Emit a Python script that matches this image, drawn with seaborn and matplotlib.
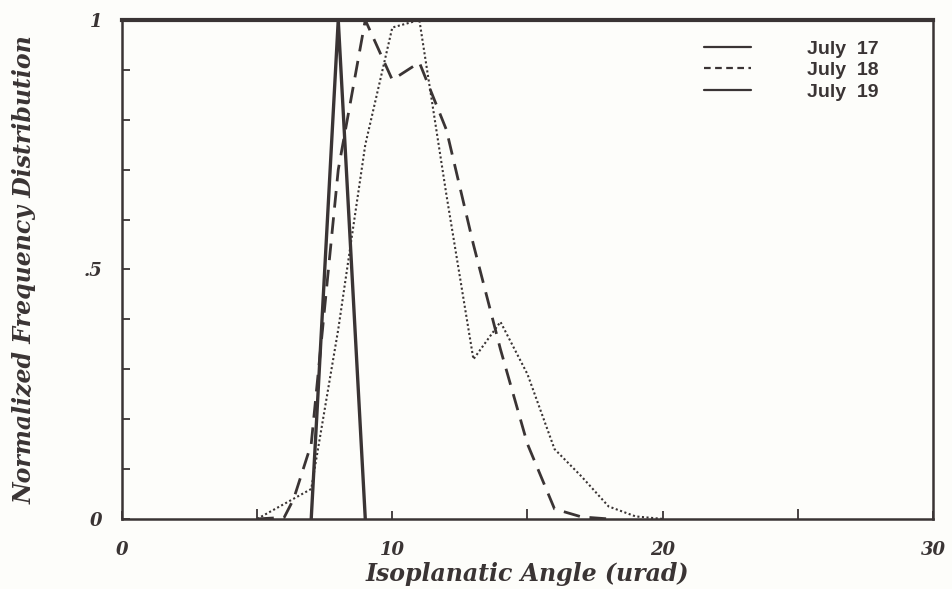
import numpy as np
import pandas as pd
import seaborn as sns
import matplotlib.pyplot as plt
from matplotlib.lines import Line2D

# valores (angulo isoplanatico, urad)
x_jul17 = [7, 8, 9]
y_jul17 = [0.0, 1.0, 0.0]

x_jul18 = [5, 6, 6.35, 7, 8, 9, 10, 11, 12, 13, 14, 15, 16, 17, 18]
y_jul18 = [0.0, 0.003, 0.04, 0.15, 0.70, 1.0, 0.88, 0.915, 0.78, 0.55, 0.34, 0.15, 0.02, 0.004, 0.0]

x_jul19 = [5, 6, 7, 8, 9, 10, 11, 12, 13, 14, 15, 16, 17, 18, 19, 20]
y_jul19 = [0.0, 0.03, 0.06, 0.38, 0.75, 0.985, 1.0, 0.65, 0.32, 0.395, 0.29, 0.14, 0.085, 0.025, 0.005, 0.0]

legend_labels = ["July  17", "July  18", "July  19"]

sns.set_style("white")
plt.rcParams['font.family'] = ['DejaVu Serif', 'DejaVu Sans']

cor = '#3a3434'
fundo = '#fdfdfa'

fig = plt.figure(figsize=(9.53, 5.89), dpi=100, facecolor=fundo)
ax = fig.add_axes([0.128, 0.119, 0.851, 0.847], facecolor=fundo)

sns.lineplot(x=x_jul17, y=y_jul17, ax=ax, color=cor, lw=2.4, sort=False)
sns.lineplot(x=x_jul18, y=y_jul18, ax=ax, color=cor, lw=2.0, sort=False,
             dashes=False, linestyle=(0, (6, 3.5)))
sns.lineplot(x=x_jul19, y=y_jul19, ax=ax, color=cor, lw=1.5, sort=False,
             linestyle=(0, (1, 1.2)))

ax.set_xlim(0, 30)
ax.set_ylim(0, 1)

ax.set_xticks([0, 10, 20, 30])
ax.set_xticks([5, 15, 25], minor=True)
ax.set_yticks([0, 0.5, 1])
ax.set_yticklabels(["0", ".5", "1"])
ax.set_yticks(np.arange(0.1, 1.0, 0.1), minor=True)

ax.tick_params(axis='both', which='both', direction='in', length=6, width=1.3,
               color=cor, bottom=True, left=True)
ax.tick_params(axis='x', which='major', pad=16, labelsize=13)
ax.tick_params(axis='y', which='major', pad=14, labelsize=13)
ax.tick_params(axis='x', which='minor', length=7)
for lab in ax.get_xticklabels() + ax.get_yticklabels():
    lab.set_fontstyle('italic')
    lab.set_fontweight('bold')
    lab.set_color(cor)

for lado, s in ax.spines.items():
    s.set_visible(True)
    s.set_color(cor)
    s.set_linewidth(1.8)
ax.spines['top'].set_linewidth(3.0)

ax.set_xlabel("Isoplanatic Angle (urad)", fontsize=17, fontstyle='italic',
              fontweight='bold', color=cor, labelpad=2)
ax.set_ylabel("Normalized Frequency Distribution", fontsize=17, fontstyle='italic',
              fontweight='bold', color=cor, labelpad=34)

handles = [Line2D([], [], color=cor, lw=1.6),
           Line2D([], [], color=cor, lw=1.6, linestyle=(0, (3, 2))),
           Line2D([], [], color=cor, lw=1.6)]
leg = ax.legend(handles, legend_labels, loc='upper right', bbox_to_anchor=(0.955, 0.995),
                frameon=False, handlelength=2.4, handletextpad=2.9, labelspacing=0.2,
                prop={'family': 'Liberation Sans', 'weight': 'bold', 'size': 14})
for t in leg.get_texts():
    t.set_color(cor)

fig.savefig("out.png", dpi=100, facecolor=fundo)
